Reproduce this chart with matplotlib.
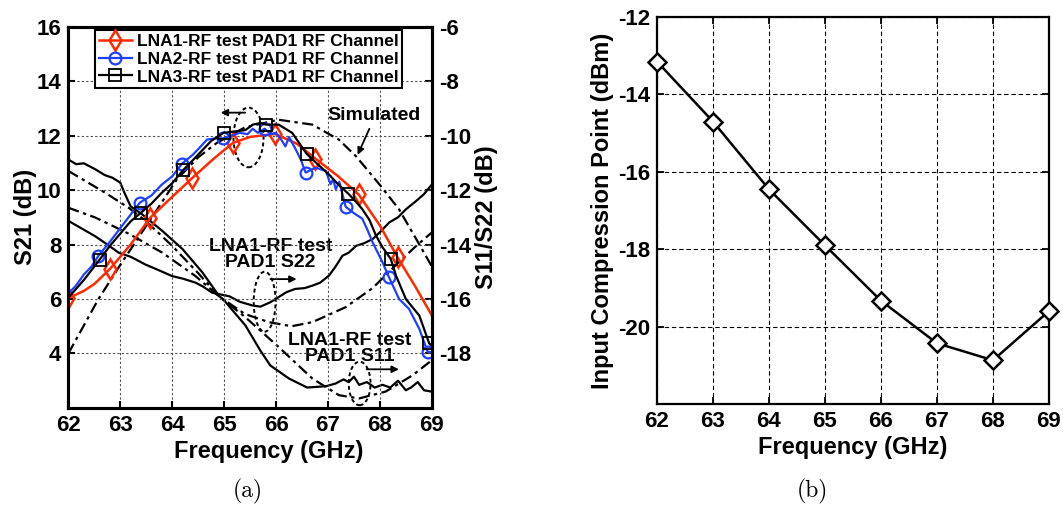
import numpy as np
import matplotlib
matplotlib.use("Agg")
import matplotlib.pyplot as plt
from matplotlib.patches import Ellipse

plt.rcParams['font.family'] = ['Liberation Sans', 'DejaVu Sans']
plt.rcParams['font.weight'] = 'bold'
plt.rcParams['axes.unicode_minus'] = False

# ---- (a) S-parameters ----
# LNA1 S21 (dB)
f_lna1 = [62.00, 62.30, 62.50, 62.80, 63.20, 63.58, 64.00, 64.38, 64.80, 65.17,
          65.50, 65.98, 66.40, 66.76, 67.20, 67.59, 68.00, 68.34, 68.70, 69.00]
s21_lna1 = [6.03, 6.30, 6.55, 7.10, 8.00, 8.99, 9.75, 10.43, 11.15, 11.73,
            11.95, 12.06, 11.70, 11.15, 10.50, 9.84, 8.70, 7.53, 6.40, 5.40]
mk_lna1 = [0, 3, 5, 7, 9, 11, 13, 15, 17]

# LNA2 S21 (dB)
f_lna2 = [62.00, 62.15, 62.30, 62.45, 62.58, 62.80, 63.00, 63.20, 63.38, 63.60,
          63.80, 64.00, 64.19, 64.40, 64.55, 64.67, 64.85, 64.98, 65.15, 65.30,
          65.45, 65.55, 65.65, 65.78, 65.90, 66.00, 66.10, 66.18, 66.25, 66.38,
          66.48, 66.57, 66.76, 66.96, 67.05, 67.10, 67.15, 67.22, 67.34, 67.50,
          67.66, 67.76, 67.86, 68.05, 68.17, 68.37, 68.56, 68.76, 68.92, 69.00]
s21_lna2 = [6.20, 6.50, 6.90, 7.20, 7.59, 8.10, 8.60, 9.10, 9.54, 9.80,
            10.20, 10.50, 10.97, 11.30, 11.60, 11.85, 11.90, 11.90, 12.00, 12.10,
            12.05, 12.25, 12.10, 12.25, 12.05, 12.10, 11.85, 11.60, 11.95, 11.49,
            11.10, 10.64, 10.82, 10.70, 10.21, 10.40, 10.03, 10.30, 9.39, 9.15,
            8.95, 8.54, 8.08, 7.35, 6.82, 6.00, 5.64, 4.90, 4.06, 4.05]
mk_lna2 = [4, 8, 12, 17, 23, 31, 38, 44, 48]

# LNA3 S21 (dB)
f_lna3 = [62.00, 62.30, 62.60, 62.80, 63.00, 63.20, 63.40, 63.60, 63.80, 64.00,
          64.21, 64.40, 64.60, 64.75, 64.99, 65.20, 65.41, 65.55, 65.70, 65.81,
          66.05, 66.31, 66.59, 66.80, 67.02, 67.20, 67.39, 67.55, 67.66, 67.80,
          67.92, 68.05, 68.21, 68.31, 68.50, 68.76, 68.95, 69.00]
s21_lna3 = [6.05, 6.70, 7.44, 7.95, 8.40, 8.85, 9.17, 9.50, 9.90, 10.25,
            10.73, 11.10, 11.50, 11.80, 12.10, 12.15, 12.20, 12.40, 12.46, 12.40,
            12.40, 12.10, 11.33, 10.95, 10.57, 10.20, 9.87, 9.55, 9.30, 8.90,
            8.35, 7.90, 7.47, 6.86, 6.00, 5.39, 4.37, 4.30]
mk_lna3 = [2, 6, 10, 14, 19, 22, 26, 32, 36]

# simulated S21 (dB)
f_sim21 = [62.00, 62.58, 63.00, 63.40, 63.71, 64.09, 64.50, 64.86, 65.40, 66.05,
           66.70, 67.21, 67.54, 67.99, 68.37, 68.70, 69.00]
s21_sim = [4.00, 6.00, 7.25, 8.40, 9.29, 10.39, 11.20, 11.73, 12.30, 12.58,
           12.40, 11.85, 11.24, 10.21, 9.29, 8.20, 7.20]

# measured S11 (dB)
f_s11 = [62.00, 62.15, 62.30, 62.52, 62.70, 62.85, 63.00, 63.08, 63.20, 63.42,
         63.81, 64.20, 64.58, 64.90, 65.00, 65.41, 65.70, 65.89, 66.25, 66.60,
         66.97, 67.15, 67.30, 67.40, 67.50, 67.60, 67.75, 67.90, 68.05, 68.20,
         68.35, 68.50, 68.60, 68.73, 68.85, 69.00]
s11_meas = [-10.88, -11.05, -11.02, -11.24, -11.45, -11.55, -11.73, -12.10, -12.60, -12.89,
            -13.50, -14.17, -15.02, -15.88, -16.05, -16.97, -17.90, -18.44, -18.92, -19.25,
            -19.20, -19.10, -18.95, -19.05, -18.85, -19.15, -19.05, -19.25, -19.15, -19.25,
            -19.00, -19.35, -19.25, -19.05, -19.35, -19.40]

# measured S22 (dB)
f_s22 = [62.00, 62.20, 62.52, 62.75, 62.97, 63.20, 63.49, 63.75, 64.00, 64.20,
         64.45, 64.60, 64.77, 65.10, 65.30, 65.55, 65.70, 65.89, 66.05, 66.20,
         66.37, 66.55, 66.70, 66.85, 67.02, 67.15, 67.28, 67.40, 67.54, 67.70,
         67.86, 68.00, 68.18, 68.35, 68.50, 68.70, 68.85, 69.00]
s22_meas = [-13.13, -13.35, -13.70, -14.00, -14.30, -14.45, -14.74, -14.95, -15.16, -15.25,
            -15.40, -15.55, -15.77, -15.90, -16.10, -16.24, -16.28, -16.12, -15.93, -15.75,
            -15.63, -15.60, -15.51, -15.40, -15.14, -14.80, -14.41, -14.30, -14.05, -13.95,
            -13.80, -13.55, -13.19, -13.00, -12.71, -12.40, -12.15, -11.80]

# simulated S11 / S22 (dB)
f_sim11 = [62.00, 62.71, 63.16, 63.50, 64.00, 64.50, 64.90, 65.41, 66.05, 66.70,
           67.21, 67.60, 68.11, 68.63, 69.00]
s11_sim = [-11.30, -12.10, -12.65, -13.15, -14.05, -15.05, -15.90, -16.67, -17.76, -18.92,
           -19.53, -19.65, -19.40, -18.80, -18.25]
f_sim22 = [62.00, 62.52, 63.16, 63.81, 64.45, 64.90, 65.40, 65.86, 66.30, 66.70,
           67.34, 67.86, 68.31, 68.70, 69.00]
s22_sim = [-12.65, -13.01, -13.60, -14.30, -15.16, -15.90, -16.55, -16.85, -17.00, -16.85,
           -16.30, -15.60, -14.75, -14.05, -13.56]

# ---- (b) input compression point ----
freq_p1 = [62, 63, 64, 65, 66, 67, 68, 69]
icp1 = [-13.15, -14.70, -16.45, -17.90, -19.33, -20.43, -20.87, -19.60]

freq_ticks = np.arange(62, 70)
dashdot = (0, (5, 2, 1.5, 2))
TICK_FS = 16
LABEL_FS = 17

fig = plt.figure(figsize=(10.63, 5.08), dpi=100)
ax1 = fig.add_axes([0.0643, 0.1969, 0.3419, 0.7508])
ax2 = ax1.twinx()
ax1.set_zorder(ax2.get_zorder() + 1)
ax1.patch.set_visible(False)

# S11 / S22 on the right axis
ax2.plot(f_s11, s11_meas, color='black', lw=1.6)
ax2.plot(f_s22, s22_meas, color='black', lw=1.6)
ax2.plot(f_sim11, s11_sim, color='black', lw=1.6, linestyle=dashdot)
ax2.plot(f_sim22, s22_sim, color='black', lw=1.6, linestyle=dashdot)
ax2.set_ylim(-20, -6)
ax2.set_yticks(np.arange(-18, -5, 2))
ax2.set_ylabel('S11/S22 (dB)', fontsize=LABEL_FS, fontweight='bold', labelpad=3)

# S21 on the left axis
ax1.plot(f_sim21, s21_sim, color='black', lw=1.6, linestyle=dashdot)
ax1.plot(f_lna1, s21_lna1, color='#ff2a00', lw=1.8, marker='d', markevery=mk_lna1,
         ms=10, mfc='none', mew=1.8, label='LNA1-RF test PAD1 RF Channel')
ax1.plot(f_lna2, s21_lna2, color='#1f3fff', lw=1.6, marker='o', markevery=mk_lna2,
         ms=8.5, mfc='none', mew=1.6, label='LNA2-RF test PAD1 RF Channel')
ax1.plot(f_lna3, s21_lna3, color='black', lw=1.6, marker='s', markevery=mk_lna3,
         ms=8.5, mfc='none', mew=1.3, label='LNA3-RF test PAD1 RF Channel')
ax1.set_xlim(62, 69)
ax1.set_ylim(2, 16)
ax1.set_xticks(freq_ticks)
ax1.set_yticks(np.arange(4, 17, 2))
ax1.set_xlabel('Frequency (GHz)', fontsize=LABEL_FS, fontweight='bold', labelpad=3)
ax1.xaxis.label.set_x(0.55)
ax1.set_ylabel('S21 (dB)', fontsize=LABEL_FS, fontweight='bold', labelpad=0)
ax1.grid(True, linestyle=(0, (2, 2)), color='0.3', lw=0.8)

leg = ax1.legend(loc='upper left', bbox_to_anchor=(0.074, 0.99),
                 prop={'weight': 'bold', 'size': 12.5}, handlelength=1.9,
                 handletextpad=0.3, borderpad=0.2, labelspacing=0.15,
                 borderaxespad=0, fancybox=False, framealpha=1, edgecolor='black')
leg.get_frame().set_linewidth(1.5)

# annotations
ax1.add_patch(Ellipse((65.47, 11.93), 0.58, 2.19, fill=False, ec='black',
                      lw=1.4, linestyle=(0, (2, 1.5))))
ax1.annotate('', xy=(64.88, 12.84), xytext=(65.46, 12.84),
             arrowprops=dict(arrowstyle='-|>', color='black', lw=1.3, mutation_scale=10))
ax1.text(67.89, 12.75, 'Simulated', fontsize=14, fontweight='bold', ha='center', va='center')
ax1.annotate('', xy=(67.55, 11.2), xytext=(67.82, 12.34),
             arrowprops=dict(arrowstyle='-|>', color='black', lw=1.3, mutation_scale=10))

ax2.add_patch(Ellipse((65.78, -16.1), 0.42, 2.2, fill=False, ec='black',
                      lw=1.4, linestyle=(0, (2, 1.5))))
ax2.annotate('', xy=(66.45, -15.27), xytext=(65.84, -15.27),
             arrowprops=dict(arrowstyle='-|>', color='black', lw=1.3, mutation_scale=10))
ax2.text(65.89, -14.37, 'LNA1-RF test\nPAD1 S22', fontsize=14, fontweight='bold',
         ha='center', va='center', linespacing=0.95)

ax2.add_patch(Ellipse((67.61, -19.1), 0.42, 1.6, fill=False, ec='black',
                      lw=1.4, linestyle=(0, (2, 1.5))))
ax2.annotate('', xy=(68.42, -18.58), xytext=(67.69, -18.58),
             arrowprops=dict(arrowstyle='-|>', color='black', lw=1.3, mutation_scale=10))
ax2.text(67.42, -17.82, 'LNA1-RF test\nPAD1 S11', fontsize=14, fontweight='bold',
         ha='center', va='center', linespacing=0.95)

for ax in (ax1, ax2):
    for sp in ax.spines.values():
        sp.set_linewidth(2.2)
    ax.tick_params(direction='in', length=5, width=1.5, labelsize=TICK_FS, pad=5)
ax1.tick_params(top=True)
for lab in ax1.get_xticklabels() + ax1.get_yticklabels() + ax2.get_yticklabels():
    lab.set_fontweight('bold')

# ---- (b) ----
ax3 = fig.add_axes([0.618, 0.2047, 0.3688, 0.7618])
ax3.plot(freq_p1, icp1, color='black', lw=1.8, marker='D', ms=9,
         mfc='white', mew=1.8, clip_on=False, zorder=3)
ax3.set_xlim(62, 69)
ax3.set_ylim(-22, -12)
ax3.set_xticks(freq_ticks)
ax3.set_yticks(np.arange(-20, -11, 2))
ax3.set_xlabel('Frequency (GHz)', fontsize=LABEL_FS, fontweight='bold', labelpad=3)
ax3.set_ylabel('Input Compression Point (dBm)', fontsize=LABEL_FS, fontweight='bold',
               labelpad=3)
ax3.grid(True, linestyle=(0, (4, 2.5)), color='black', lw=0.8)
for sp in ax3.spines.values():
    sp.set_linewidth(1.6)
ax3.tick_params(direction='in', length=5, width=1.3, labelsize=TICK_FS, pad=5,
                top=True, right=True)
for lab in ax3.get_xticklabels() + ax3.get_yticklabels():
    lab.set_fontweight('bold')

fig.text(0.233, 0.032, '(a)', family='cmr10', fontsize=17, ha='center', va='center')
fig.text(0.764, 0.032, '(b)', family='cmr10', fontsize=17, ha='center', va='center')

fig.savefig('out.png', dpi=100)
